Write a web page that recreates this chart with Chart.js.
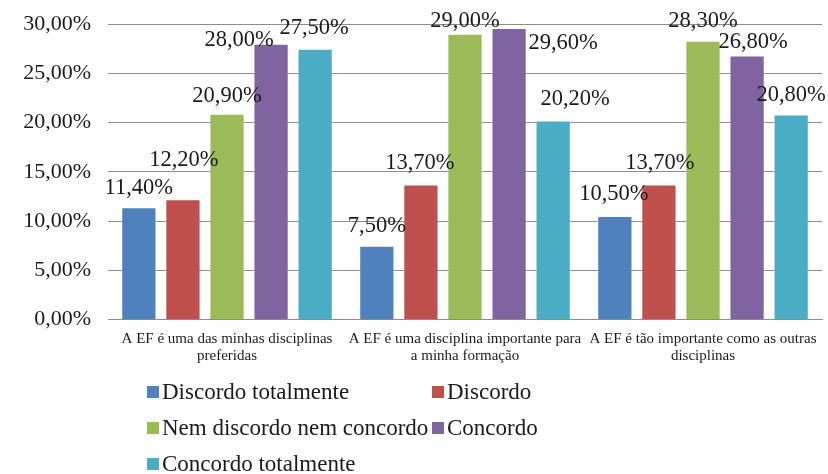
<!DOCTYPE html>
<html>
<head>
<meta charset="utf-8">
<script src="https://cdn.jsdelivr.net/npm/chart.js@4"></script>
<style>
  html, body { margin: 0; padding: 0; background: #fff; }
  #wrap { width: 828px; height: 474px; }
</style>
</head>
<body>
<div id="wrap"><canvas id="chart"></canvas></div>
<script>
const categories = [
  ["A EF é uma das minhas disciplinas", "preferidas"],
  ["A EF é uma disciplina importante para", "a minha formação"],
  ["A EF é tão importante como as outras", "disciplinas"],
];
const seriesNames = ["Discordo totalmente", "Discordo", "Nem discordo nem concordo", "Concordo", "Concordo totalmente"];
const discordoTotalmente = [11.4, 7.5, 10.5];
const discordo = [12.2, 13.7, 13.7];
const nemNem = [20.9, 29.0, 28.3];
const concordo = [28.0, 29.6, 26.8];
const concordoTotalmente = [27.5, 20.2, 20.8];
const yTicks = [0, 5, 10, 15, 20, 25, 30];

const colors = ["#4F81BD", "#C0504D", "#9BBB59", "#8064A2", "#4BACC6"];
// label nudges [dx, dy] from bar centre / bar top, as placed in the original
const labelNudge = [
  [[0, -19], [0, -20], [-1, -22]],
  [[1, -39], [-1, -21], [1, -21]],
  [[0, -18], [0, -13], [0, -20]],
  [[-32, -4], [54, 15], [6, -13]],
  [[-1, -21], [22, -21], [0, -20]],
];

const fmt = (v) => v.toFixed(2).replace(".", ",") + "%";
const serif = "'Liberation Serif', 'Times New Roman', serif";

const allSeries = [discordoTotalmente, discordo, nemNem, concordo, concordoTotalmente];
const datasets = allSeries.map((vals, i) => ({
  label: seriesNames[i],
  data: vals,
  backgroundColor: colors[i],
  borderColor: "rgba(255,255,255,0.5)",
  borderWidth: 1,
  categoryPercentage: 0.926,
  barPercentage: 0.8,
}));

const valueLabels = {
  id: "valueLabels",
  afterDatasetsDraw(chart) {
    const c = chart.ctx;
    c.save();
    c.font = "22.5px " + serif;
    c.fillStyle = "#1a1a1a";
    c.textAlign = "center";
    c.textBaseline = "middle";
    chart.data.datasets.forEach((ds, di) => {
      chart.getDatasetMeta(di).data.forEach((bar, j) => {
        const n = labelNudge[di][j];
        c.fillText(fmt(ds.data[j]), bar.x + n[0], bar.y + n[1]);
      });
    });
    c.restore();
  },
};

const gridLegend = {
  id: "gridLegend",
  afterDraw(chart) {
    const c = chart.ctx;
    c.save();
    c.font = "23px " + serif;
    c.textBaseline = "middle";
    const cols = [147, 432];
    const rows = [392, 428, 464];
    chart.data.datasets.forEach((ds, i) => {
      const x = cols[i % 2];
      const y = rows[Math.floor(i / 2)];
      c.fillStyle = ds.backgroundColor;
      c.fillRect(x, y - 6, 12, 12);
      c.fillStyle = "#1a1a1a";
      c.fillText(ds.label, x + 15, y + 1);
    });
    c.restore();
  },
};

new Chart(document.getElementById("chart"), {
  type: "bar",
  data: { labels: categories, datasets: datasets },
  options: {
    responsive: true,
    maintainAspectRatio: false,
    animation: false,
    layout: { padding: { top: 24, right: 6, bottom: 106, left: 0 } },
    plugins: {
      legend: { display: false },
      tooltip: { enabled: false },
    },
    scales: {
      x: {
        grid: { display: false },
        border: { display: true, color: "#8c8c8c" },
        ticks: {
          color: "#1a1a1a",
          font: { family: serif, size: 15, lineHeight: 1.15 },
          maxRotation: 0,
          autoSkip: false,
          padding: 3,
        },
      },
      y: {
        min: 0,
        max: 30,
        afterFit(scale) {
          scale.width = 108;
          scale.paddingTop = 0;
          scale.paddingBottom = 0;
        },
        afterBuildTicks(scale) { scale.ticks = yTicks.map((v) => ({ value: v })); },
        grid: { color: "#8c8c8c", drawTicks: false },
        border: { display: false },
        ticks: {
          color: "#1a1a1a",
          font: { family: serif, size: 22 },
          padding: 17,
          callback: (v) => fmt(v),
        },
      },
    },
  },
  plugins: [valueLabels, gridLegend],
});
</script>
</body>
</html>
